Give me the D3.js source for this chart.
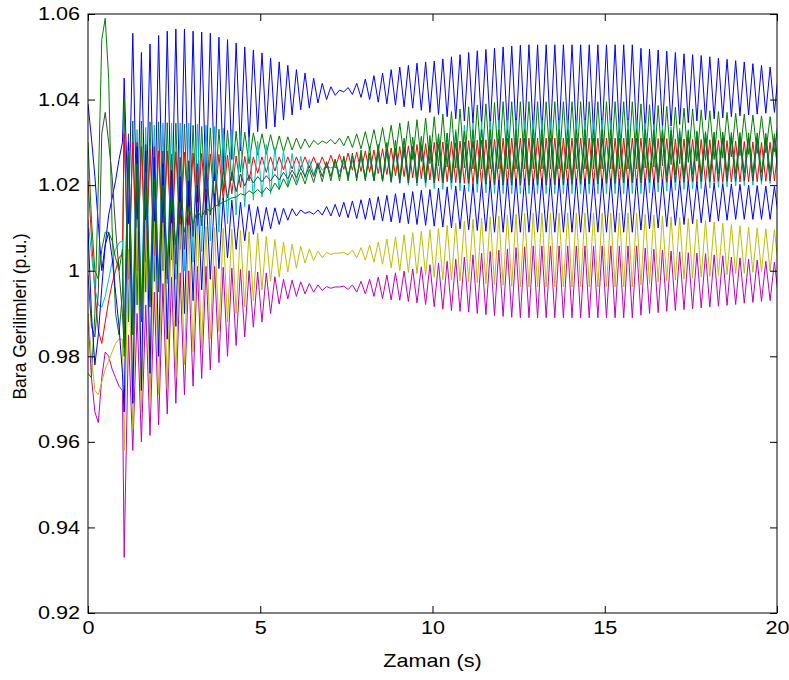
<!DOCTYPE html>
<html>
<head>
<meta charset="utf-8">
<script src="https://cdn.jsdelivr.net/npm/d3@7"></script>
<style>
  body { margin: 0; background: #fff; }
  text { font-family: Arial, "Liberation Sans", sans-serif; }
</style>
</head>
<body>
<div id="chart"></div>
<script>
// time axis: smooth start (0..1 s), then samples every 0.125 s
const earlyTimes = [0, 0.1, 0.2, 0.3, 0.4, 0.5, 0.6, 0.7, 0.8, 0.9, 1.0];
const zigStart = 1.05, zigStep = 0.125;

const xTicks = [0, 5, 10, 15, 20];
const yTicks = [0.92, 0.94, 0.96, 0.98, 1, 1.02, 1.04, 1.06];
const yTickLabels = ['0.92', '0.94', '0.96', '0.98', '1', '1.02', '1.04', '1.06'];

// bus voltages (p.u.)
const b1Early = [1.039, 1.031, 1.022, 1.011, 1.000, 1.006, 1.013, 1.017, 1.021, 1.026, 1.030];
const b1Hi = [1.045, 1.0555, 1.051, 1.053, 1.055, 1.056, 1.0565, 1.0565,
  1.056, 1.0558, 1.0555, 1.0546, 1.054, 1.0532, 1.0523, 1.0516,
  1.0509, 1.0497, 1.0488, 1.048, 1.047, 1.0462, 1.045, 1.0438,
  1.043, 1.0422, 1.0428, 1.0438, 1.0448, 1.0456, 1.0462, 1.047,
  1.0476, 1.048, 1.0485, 1.0488, 1.049, 1.0495, 1.05, 1.0505,
  1.051, 1.0514, 1.0517, 1.052, 1.0523, 1.0525, 1.0527, 1.0528,
  1.0528, 1.0528, 1.0528, 1.0528, 1.0528, 1.0528, 1.0528, 1.0528,
  1.0528, 1.0528, 1.0528, 1.0528, 1.052, 1.0518, 1.0516, 1.0513,
  1.051, 1.0507, 1.0505, 1.0503, 1.05, 1.0497, 1.0494, 1.0491,
  1.0488, 1.0484, 1.048, 1.0476, 1.0472];
const b1Lo = [1.011, 1.010, 1.010, 1.010, 1.010, 1.011, 1.012, 1.014,
  1.016, 1.0185, 1.021, 1.0235, 1.026, 1.028, 1.030, 1.0325,
  1.0332, 1.0336, 1.0352, 1.0364, 1.0376, 1.038, 1.0392, 1.040,
  1.041, 1.0418, 1.0412, 1.0405, 1.040, 1.0394, 1.039, 1.0387,
  1.0383, 1.038, 1.0375, 1.037, 1.0365, 1.036, 1.0355, 1.035,
  1.0345, 1.034, 1.0336, 1.0333, 1.033, 1.0326, 1.0323, 1.032,
  1.032, 1.032, 1.032, 1.032, 1.032, 1.032, 1.032, 1.032,
  1.032, 1.032, 1.032, 1.032, 1.0325, 1.033, 1.0334, 1.0338,
  1.0342, 1.0346, 1.035, 1.0352, 1.0355, 1.0357, 1.036, 1.0362,
  1.0364, 1.0366, 1.0368, 1.037, 1.037];

const gaEarly = [0.976, 0.975, 0.990, 1.020, 1.054, 1.059, 1.045, 1.010, 0.990, 0.985, 0.995];
const gaHi = [1.04, 1.035, 1.035, 1.0348, 1.0348, 1.0346, 1.0345, 1.0343,
  1.034, 1.0337, 1.0334, 1.0331, 1.0328, 1.0326, 1.0324, 1.0322,
  1.032, 1.0318, 1.0315, 1.0313, 1.031, 1.0308, 1.0305, 1.0303,
  1.0307, 1.031, 1.0315, 1.032, 1.0325, 1.033, 1.0335, 1.034,
  1.0345, 1.0349, 1.0353, 1.0357, 1.036, 1.0366, 1.0372, 1.0378,
  1.0383, 1.0387, 1.039, 1.0393, 1.0395, 1.0395, 1.0395, 1.0395,
  1.0395, 1.0395, 1.0395, 1.0395, 1.0395, 1.0395, 1.0395, 1.0395,
  1.0395, 1.0395, 1.0395, 1.0395, 1.039, 1.0388, 1.0386, 1.0384,
  1.0382, 1.038, 1.0378, 1.0376, 1.0374, 1.0372, 1.037, 1.0368,
  1.0366, 1.0364, 1.0362, 1.036, 1.036];
const gaLo = [0.988, 0.992, 0.995, 0.9975, 1.0, 1.0025, 1.005, 1.0075,
  1.01, 1.013, 1.016, 1.0185, 1.021, 1.023, 1.025, 1.027,
  1.0272, 1.0275, 1.0278, 1.0282, 1.0285, 1.0288, 1.0295, 1.0298,
  1.0296, 1.0292, 1.0288, 1.0285, 1.0282, 1.028, 1.0275, 1.027,
  1.0265, 1.026, 1.0255, 1.025, 1.0245, 1.0242, 1.024, 1.024,
  1.0238, 1.0238, 1.0238, 1.0238, 1.0238, 1.0238, 1.0238, 1.0238,
  1.0238, 1.0238, 1.0238, 1.0238, 1.0238, 1.0238, 1.0238, 1.0238,
  1.0238, 1.0238, 1.0238, 1.0238, 1.024, 1.0242, 1.0245, 1.0248,
  1.025, 1.0253, 1.0256, 1.0258, 1.026, 1.0263, 1.0266, 1.0269,
  1.0272, 1.0274, 1.0276, 1.0278, 1.028];

const rEarly = [1.021, 1.008, 0.995, 0.986, 0.983, 0.988, 0.993, 0.997, 1.000, 1.003, 1.004];
const rHi = [1.032, 1.03, 1.029, 1.0285, 1.028, 1.028, 1.0278, 1.0277,
  1.0275, 1.0274, 1.0273, 1.0272, 1.027, 1.0268, 1.0267, 1.0266,
  1.0266, 1.0266, 1.0266, 1.0266, 1.0266, 1.0266, 1.0266, 1.0266,
  1.027, 1.0272, 1.0275, 1.0277, 1.028, 1.0282, 1.0285, 1.0287,
  1.029, 1.0292, 1.0295, 1.0297, 1.03, 1.0301, 1.0302, 1.0303,
  1.0304, 1.0305, 1.0306, 1.0307, 1.031, 1.031, 1.031, 1.031,
  1.031, 1.031, 1.031, 1.031, 1.031, 1.031, 1.031, 1.031,
  1.031, 1.031, 1.031, 1.031, 1.031, 1.031, 1.0309, 1.0309,
  1.0308, 1.0308, 1.0307, 1.0307, 1.0306, 1.0305, 1.0304, 1.0303,
  1.0302, 1.0301, 1.03, 1.03, 1.03];
const rLo = [0.998, 1.0, 1.002, 1.0035, 1.005, 1.007, 1.009, 1.0105,
  1.012, 1.0135, 1.015, 1.0165, 1.018, 1.0195, 1.021, 1.0228,
  1.023, 1.0233, 1.0236, 1.0238, 1.024, 1.024, 1.024, 1.024,
  1.024, 1.0237, 1.0235, 1.0232, 1.023, 1.0227, 1.0225, 1.0222,
  1.022, 1.0217, 1.0215, 1.0212, 1.021, 1.0208, 1.0206, 1.0204,
  1.0202, 1.0201, 1.02, 1.02, 1.02, 1.02, 1.02, 1.02,
  1.02, 1.02, 1.02, 1.02, 1.02, 1.02, 1.02, 1.02,
  1.02, 1.02, 1.02, 1.02, 1.02, 1.0201, 1.0202, 1.0203,
  1.0204, 1.0204, 1.0205, 1.0205, 1.0206, 1.0206, 1.0207, 1.0207,
  1.0208, 1.0208, 1.0209, 1.021, 1.021];

const cEarly = [1.012, 1.004, 0.996, 0.992, 0.9915, 0.994, 0.998, 1.002, 1.005, 1.0065, 1.007];
const cHi = [1.03, 1.033, 1.0335, 1.034, 1.0345, 1.0345, 1.0345, 1.0345,
  1.0343, 1.034, 1.0337, 1.0333, 1.033, 1.0322, 1.0313, 1.0302,
  1.0295, 1.0288, 1.0281, 1.0274, 1.0267, 1.026, 1.0253, 1.0245,
  1.0245, 1.0252, 1.0258, 1.0262, 1.0266, 1.027, 1.0275, 1.028,
  1.0285, 1.029, 1.0295, 1.03, 1.031, 1.032, 1.033, 1.034,
  1.0345, 1.0348, 1.035, 1.0352, 1.0352, 1.0352, 1.0352, 1.0352,
  1.0352, 1.0352, 1.0352, 1.0352, 1.0352, 1.0352, 1.0352, 1.0352,
  1.0352, 1.0352, 1.0352, 1.0352, 1.0345, 1.0342, 1.0339, 1.0336,
  1.0333, 1.033, 1.0327, 1.0324, 1.0321, 1.0318, 1.0315, 1.0313,
  1.0311, 1.031, 1.031, 1.031, 1.031];
const cLo = [0.985, 0.99, 0.992, 0.994, 0.996, 0.997, 0.998, 1.0,
  1.002, 1.0045, 1.007, 1.009, 1.011, 1.013, 1.015, 1.0165,
  1.0172, 1.018, 1.019, 1.0198, 1.0207, 1.0216, 1.0225, 1.0235,
  1.024, 1.0232, 1.0225, 1.022, 1.0215, 1.021, 1.0208, 1.0206,
  1.0204, 1.02, 1.0198, 1.0195, 1.0192, 1.019, 1.019, 1.0187,
  1.0185, 1.0183, 1.0182, 1.0181, 1.018, 1.018, 1.018, 1.018,
  1.018, 1.018, 1.018, 1.018, 1.018, 1.018, 1.018, 1.018,
  1.018, 1.018, 1.018, 1.018, 1.018, 1.0182, 1.0184, 1.0186,
  1.0188, 1.019, 1.0191, 1.0192, 1.0193, 1.0195, 1.0196, 1.0198,
  1.0199, 1.02, 1.0202, 1.0204, 1.0205];

const mEarly = [0.990, 0.975, 0.967, 0.9645, 0.975, 0.981, 0.980, 0.977, 0.975, 0.973, 0.972];
const mHi = [0.985, 0.99, 0.992, 0.995, 0.997, 0.9985, 0.9995, 1.0,
  1.001, 1.001, 1.001, 1.0008, 1.0006, 1.0003, 1.0, 0.9997,
  0.9995, 0.9986, 0.998, 0.9978, 0.9974, 0.997, 0.9967, 0.9963,
  0.9962, 0.9964, 0.9967, 0.9975, 0.998, 0.9985, 0.999, 0.9995,
  0.9999, 1.0004, 1.0009, 1.0014, 1.0018, 1.0022, 1.0027, 1.0032,
  1.0037, 1.0041, 1.0045, 1.0048, 1.0051, 1.0054, 1.0056, 1.0058,
  1.0058, 1.0058, 1.0058, 1.0058, 1.0058, 1.0058, 1.0058, 1.0058,
  1.0058, 1.0058, 1.0058, 1.0058, 1.0053, 1.005, 1.0048, 1.0046,
  1.0044, 1.0042, 1.0041, 1.004, 1.0037, 1.0035, 1.0032, 1.003,
  1.0027, 1.0025, 1.0022, 1.002, 1.0018];
const mLo = [0.933, 0.958, 0.96, 0.9615, 0.964, 0.9665, 0.969, 0.971,
  0.973, 0.9748, 0.9768, 0.9785, 0.98, 0.9825, 0.9845, 0.9868,
  0.988, 0.99, 0.9922, 0.9934, 0.994, 0.9946, 0.995, 0.9954,
  0.9959, 0.9962, 0.9956, 0.995, 0.9946, 0.994, 0.9935, 0.9932,
  0.9931, 0.9928, 0.9925, 0.9921, 0.9916, 0.991, 0.9907, 0.9905,
  0.9903, 0.99, 0.9897, 0.9895, 0.9893, 0.9891, 0.989, 0.989,
  0.989, 0.989, 0.989, 0.989, 0.989, 0.989, 0.989, 0.989,
  0.989, 0.989, 0.989, 0.989, 0.9896, 0.99, 0.9902, 0.9905,
  0.9907, 0.9909, 0.9911, 0.9913, 0.9915, 0.9917, 0.9919, 0.9921,
  0.9924, 0.9926, 0.9928, 0.993, 0.9932];

const yEarly = [0.990, 0.980, 0.972, 0.971, 0.974, 0.977, 0.979, 0.981, 0.983, 0.984, 0.984];
const yHi = [1.005, 1.012, 1.0118, 1.0115, 1.0112, 1.011, 1.0108, 1.0106,
  1.0105, 1.0103, 1.0101, 1.0099, 1.0097, 1.0094, 1.0091, 1.0088,
  1.008, 1.0073, 1.0067, 1.0062, 1.0057, 1.0051, 1.0046, 1.0043,
  1.0041, 1.0043, 1.0048, 1.0054, 1.006, 1.0067, 1.0074, 1.0079,
  1.0084, 1.0089, 1.0092, 1.0096, 1.0099, 1.0106, 1.0111, 1.0116,
  1.012, 1.0123, 1.0126, 1.0128, 1.013, 1.0132, 1.0134, 1.0135,
  1.0135, 1.0135, 1.0135, 1.0135, 1.0135, 1.0135, 1.0135, 1.0135,
  1.0135, 1.0135, 1.0135, 1.0135, 1.0132, 1.013, 1.0128, 1.0126,
  1.0124, 1.0122, 1.012, 1.0117, 1.0114, 1.0111, 1.0108, 1.0105,
  1.0102, 1.01, 1.0098, 1.0096, 1.0095];
const yLo = [0.958, 0.963, 0.967, 0.9695, 0.971, 0.9725, 0.975, 0.978,
  0.981, 0.982, 0.984, 0.9858, 0.988, 0.99, 0.9915, 0.993,
  0.9955, 0.9975, 0.9985, 0.9997, 1.0006, 1.0018, 1.0024, 1.003,
  1.0038, 1.0041, 1.0037, 1.003, 1.0025, 1.002, 1.0015, 1.0007,
  1.0, 0.9996, 0.9993, 0.9989, 0.9985, 0.9979, 0.9978, 0.9976,
  0.9974, 0.9972, 0.997, 0.9968, 0.9966, 0.9964, 0.9962, 0.9962,
  0.9962, 0.9962, 0.9962, 0.9962, 0.9962, 0.9962, 0.9962, 0.9962,
  0.9962, 0.9962, 0.9962, 0.9962, 0.9967, 0.997, 0.9974, 0.9976,
  0.9978, 0.998, 0.9983, 0.9985, 0.9987, 0.9989, 0.9991, 0.9993,
  0.9994, 0.9996, 0.9998, 1.0, 1.0];

const kEarly = [0.999, 0.987, 0.9845, 0.995, 1.032, 1.037, 1.030, 1.022, 1.010, 1.000, 0.990];
const kHi = [1.032, 1.03, 1.0295, 1.029, 1.028, 1.0272, 1.0265, 1.0257,
  1.025, 1.0245, 1.024, 1.0235, 1.023, 1.0226, 1.0223, 1.022,
  1.0222, 1.0225, 1.023, 1.0235, 1.024, 1.0245, 1.025, 1.0255,
  1.026, 1.0264, 1.0268, 1.0272, 1.0275, 1.0279, 1.0283, 1.0287,
  1.029, 1.0291, 1.0292, 1.0293, 1.0295, 1.0297, 1.0299, 1.0301,
  1.0303, 1.0305, 1.0307, 1.0309, 1.031, 1.031, 1.031, 1.031,
  1.031, 1.031, 1.031, 1.031, 1.031, 1.031, 1.031, 1.031,
  1.031, 1.031, 1.031, 1.031, 1.031, 1.031, 1.031, 1.031,
  1.031, 1.031, 1.031, 1.031, 1.031, 1.031, 1.031, 1.031,
  1.031, 1.031, 1.031, 1.031, 1.031];
const kLo = [0.982, 0.985, 0.988, 0.9915, 0.995, 0.998, 1.0015, 1.005,
  1.008, 1.0105, 1.013, 1.015, 1.017, 1.0185, 1.0198, 1.0205,
  1.0208, 1.021, 1.0212, 1.0215, 1.0218, 1.022, 1.022, 1.022,
  1.022, 1.0219, 1.0218, 1.0217, 1.0215, 1.0212, 1.021, 1.0208,
  1.0205, 1.0205, 1.0205, 1.0205, 1.0205, 1.0205, 1.0205, 1.0205,
  1.0204, 1.0203, 1.0202, 1.0201, 1.02, 1.02, 1.02, 1.02,
  1.02, 1.02, 1.0201, 1.0201, 1.0202, 1.0202, 1.0203, 1.0203,
  1.0204, 1.0204, 1.0205, 1.0205, 1.0205, 1.0206, 1.0206, 1.0207,
  1.0207, 1.0207, 1.0208, 1.0208, 1.0208, 1.0209, 1.0209, 1.0209,
  1.021, 1.021, 1.021, 1.021, 1.021];

const b2Early = [1.010, 0.990, 0.978, 0.985, 0.996, 1.006, 1.009, 1.003, 0.995, 0.987, 0.976];
const b2Hi = [1.03, 1.029, 1.028, 1.0265, 1.025, 1.0235, 1.022, 1.021,
  1.02, 1.019, 1.018, 1.017, 1.0165, 1.016, 1.0155, 1.015,
  1.0148, 1.0147, 1.0146, 1.0145, 1.0142, 1.0138, 1.0142, 1.015,
  1.0155, 1.016, 1.0163, 1.0166, 1.017, 1.0173, 1.0176, 1.018,
  1.0182, 1.0185, 1.0188, 1.019, 1.0193, 1.0196, 1.0198, 1.02,
  1.0203, 1.0206, 1.021, 1.0212, 1.0215, 1.0215, 1.0215, 1.0215,
  1.0215, 1.0215, 1.0215, 1.0215, 1.0215, 1.0215, 1.0215, 1.0215,
  1.0215, 1.0215, 1.0215, 1.0215, 1.0215, 1.0214, 1.0213, 1.0212,
  1.021, 1.0209, 1.0208, 1.0207, 1.0205, 1.0204, 1.0203, 1.0202,
  1.02, 1.0199, 1.0198, 1.0197, 1.0196];
const b2Lo = [0.967, 0.969, 0.972, 0.976, 0.98, 0.984, 0.987, 0.99,
  0.993, 0.9955, 0.998, 1.0005, 1.003, 1.005, 1.007, 1.0085,
  1.0092, 1.0098, 1.0108, 1.0118, 1.0128, 1.0134, 1.0132, 1.013,
  1.0128, 1.0126, 1.0124, 1.0122, 1.012, 1.0118, 1.0116, 1.0114,
  1.0112, 1.011, 1.0108, 1.0106, 1.0104, 1.0102, 1.01, 1.0098,
  1.0096, 1.0094, 1.0092, 1.009, 1.009, 1.009, 1.009, 1.009,
  1.009, 1.009, 1.009, 1.009, 1.009, 1.009, 1.009, 1.009,
  1.009, 1.009, 1.009, 1.009, 1.0095, 1.0098, 1.01, 1.0103,
  1.0106, 1.0108, 1.011, 1.0112, 1.0114, 1.0116, 1.0118, 1.012,
  1.012, 1.012, 1.012, 1.012, 1.012];

const gbEarly = [1.030, 1.012, 1.000, 0.998, 1.005, 1.009, 1.009, 1.007, 1.003, 1.000, 1.005];
const gbHi = [1.028, 1.025, 1.023, 1.0215, 1.02, 1.018, 1.016, 1.015,
  1.014, 1.0145, 1.015, 1.016, 1.017, 1.018, 1.0187, 1.019,
  1.0195, 1.0205, 1.0215, 1.0225, 1.023, 1.0237, 1.0245, 1.0252,
  1.026, 1.0268, 1.0275, 1.0282, 1.029, 1.0295, 1.03, 1.0305,
  1.031, 1.0312, 1.0314, 1.0316, 1.032, 1.0322, 1.0324, 1.0326,
  1.0328, 1.033, 1.033, 1.033, 1.033, 1.033, 1.033, 1.033,
  1.033, 1.033, 1.033, 1.033, 1.033, 1.033, 1.033, 1.033,
  1.033, 1.033, 1.033, 1.033, 1.033, 1.033, 1.0328, 1.0328,
  1.0326, 1.0326, 1.0325, 1.0325, 1.0324, 1.0324, 1.0323, 1.0323,
  1.0322, 1.0322, 1.0321, 1.032, 1.032];
const gbLo = [0.98, 0.985, 0.989, 0.993, 0.998, 1.002, 1.006, 1.009,
  1.011, 1.0125, 1.014, 1.0155, 1.0165, 1.0172, 1.0177, 1.018,
  1.018, 1.0185, 1.019, 1.0195, 1.02, 1.0203, 1.0206, 1.0208,
  1.021, 1.021, 1.021, 1.021, 1.021, 1.021, 1.021, 1.021,
  1.0215, 1.0215, 1.0215, 1.0215, 1.0215, 1.0215, 1.0215, 1.0215,
  1.0215, 1.0215, 1.0215, 1.0215, 1.0215, 1.0215, 1.0215, 1.0215,
  1.0215, 1.0215, 1.0215, 1.0215, 1.0215, 1.0215, 1.0215, 1.0215,
  1.0215, 1.0215, 1.0215, 1.0215, 1.022, 1.022, 1.0222, 1.0222,
  1.0224, 1.0224, 1.0225, 1.0225, 1.0226, 1.0226, 1.0227, 1.0227,
  1.0228, 1.0228, 1.0229, 1.023, 1.023];

// plotting order follows matlab's default colour cycle
const series = [
  { color: '#0000ff', early: b1Early, hi: b1Hi, lo: b1Lo, lowFirst: false },
  { color: '#008000', early: gaEarly, hi: gaHi, lo: gaLo, lowFirst: false },
  { color: '#ff0000', early: rEarly, hi: rHi, lo: rLo, lowFirst: false },
  { color: '#00bfbf', early: cEarly, hi: cHi, lo: cLo, lowFirst: true },
  { color: '#bf00bf', early: mEarly, hi: mHi, lo: mLo, lowFirst: true },
  { color: '#bfbf00', early: yEarly, hi: yHi, lo: yLo, lowFirst: true },
  { color: '#404040', early: kEarly, hi: kHi, lo: kLo, lowFirst: true },
  { color: '#0000ff', early: b2Early, hi: b2Hi, lo: b2Lo, lowFirst: true },
  { color: '#008000', early: gbEarly, hi: gbHi, lo: gbLo, lowFirst: true }
];

const width = 789, height = 680;
const margin = { top: 14, right: 12, bottom: 67, left: 88 };
const w = width - margin.left - margin.right,
  h = height - margin.top - margin.bottom;

const svg = d3.select('#chart').append('svg')
  .attr('width', width)
  .attr('height', height);

const g = svg.append('g')
  .attr('transform', 'translate(' + margin.left + ',' + margin.top + ')');

const x = d3.scaleLinear().domain([0, 20]).range([0, w]);
const y = d3.scaleLinear().domain([0.92, 1.06]).range([h, 0]);

svg.append('defs').append('clipPath').attr('id', 'clip')
  .append('rect').attr('width', w).attr('height', h);

function points(s) {
  const pts = earlyTimes.map(function(t, i) { return [t, s.early[i]]; });
  s.hi.forEach(function(v, i) {
    const t = zigStart + 2 * i * zigStep;
    const first = s.lowFirst ? s.lo[i] : v,
      second = s.lowFirst ? v : s.lo[i];
    pts.push([t, first]);
    pts.push([t + zigStep, second]);
  });
  return pts;
}

const line = d3.line()
  .x(function(d) { return x(d[0]); })
  .y(function(d) { return y(d[1]); });

const lines = g.append('g').attr('clip-path', 'url(#clip)');
series.forEach(function(s) {
  lines.append('path')
    .datum(points(s))
    .attr('fill', 'none')
    .attr('stroke', s.color)
    .attr('stroke-width', 1)
    .attr('stroke-linejoin', 'miter')
    .attr('d', line);
});

// axes, ticks pointing inward like matlab
const fmtY = function(d) { return yTickLabels[yTicks.indexOf(d)]; };

const yAxis = g.append('g')
  .call(d3.axisLeft(y).tickValues(yTicks).tickFormat(fmtY).tickSize(-7).tickSizeOuter(0).tickPadding(8));
yAxis.selectAll('text')
  .attr('x', null)
  .attr('transform', 'translate(-8,0) scale(1.2,1)');

const xAxis = g.append('g')
  .attr('transform', 'translate(0,' + h + ')')
  .call(d3.axisBottom(x).tickValues(xTicks).tickFormat(d3.format('d')).tickSize(-7).tickSizeOuter(0).tickPadding(8));
xAxis.selectAll('text').attr('transform', 'scale(1.2,1)');

g.append('g')
  .call(d3.axisTop(x).tickValues(xTicks).tickFormat('').tickSize(-7).tickSizeOuter(0));
g.append('g')
  .attr('transform', 'translate(' + w + ',0)')
  .call(d3.axisRight(y).tickValues(yTicks).tickFormat('').tickSize(-7).tickSizeOuter(0));

g.selectAll('.domain').remove();
g.selectAll('.tick line').attr('stroke', '#000');
g.selectAll('.tick text')
  .attr('fill', '#000')
  .style('font-size', '18px');

g.append('rect')
  .attr('width', w).attr('height', h)
  .attr('fill', 'none')
  .attr('stroke', '#000')
  .attr('stroke-width', 1);

svg.append('text')
  .attr('transform', 'translate(' + (margin.left + w / 2) + ',' + 667 + ') scale(1.2,1)')
  .attr('text-anchor', 'middle')
  .style('font-size', '18px')
  .text('Zaman (s)');

svg.append('text')
  .attr('transform', 'translate(26,' + (margin.top + h / 2 + 3) + ') scale(1.1,1) rotate(-90)')
  .attr('text-anchor', 'middle')
  .style('font-size', '17.5px')
  .text('Bara Gerilimleri (p.u.)');
</script>
</body>
</html>
